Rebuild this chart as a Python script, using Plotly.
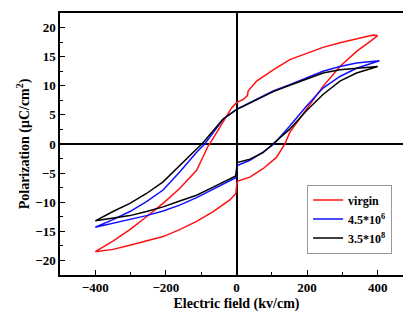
import plotly.graph_objects as go

# virgin (red) loop: ascending branch then descending branch
virgin_E = [-400, -350, -302, -255, -208, -161, -113, -66, -19, -2, 2, 38, 75, 113, 137, 151, 198, 245, 293, 340, 378, 400,
            387, 340, 293, 245, 198, 151, 104, 57, 33, 31, 19, 0, -14, -38, -61, -71, -80, -113, -161, -208, -255, -302, -350, -400]
virgin_P = [-18.5, -18.1, -17.4, -16.7, -15.9, -14.7, -13.3, -11.6, -9.6, -8.5, -6.4, -5.7, -4.25, -2.3, 0.0, 2.0, 5.95, 9.9, 13.3, 15.9, 17.6, 18.6,
            18.7, 18.1, 17.4, 16.6, 15.6, 14.5, 12.75, 10.8, 9.1, 8.3, 7.65, 7.1, 6.2, 3.7, 1.4, 0.5, -0.3, -4.5, -7.65, -10.2, -12.5, -14.7, -16.7, -18.5]

# 4.5*10^6 cycles (blue)
b_E = [-400, -350, -302, -255, -208, -161, -113, -66, -2, 2, 38, 75, 106, 151, 198, 245, 293, 340, 387, 405,
       340, 293, 245, 198, 151, 104, 57, 0, -38, -66, -90, -113, -161, -208, -255, -302, -350, -400]
b_P = [-14.3, -13.6, -13.0, -12.3, -11.5, -10.5, -9.2, -7.8, -5.8, -3.7, -2.8, -1.4, 0.0, 3.1, 6.5, 9.6, 11.6, 13.0, 13.9, 14.3,
       13.9, 13.3, 12.5, 11.3, 10.2, 9.1, 7.65, 5.95, 4.25, 2.0, 0.0, -1.4, -4.8, -7.9, -9.9, -11.6, -13.0, -14.3]

# 3.5*10^8 cycles (black)
k_E = [-400, -350, -302, -255, -208, -161, -113, -66, -2, 2, 38, 75, 102, 151, 198, 245, 293, 340, 400,
       340, 293, 245, 198, 151, 104, 57, 0, -38, -66, -98, -113, -161, -208, -255, -302, -350, -400]
k_P = [-13.2, -12.75, -12.3, -11.6, -10.8, -9.8, -8.8, -7.4, -5.5, -3.2, -2.6, -1.5, 0.0, 2.55, 5.7, 8.5, 10.8, 12.2, 13.3,
       13.0, 12.75, 12.2, 11.2, 10.1, 9.0, 7.6, 5.9, 4.3, 2.3, 0.0, -0.85, -3.7, -6.5, -8.5, -10.2, -11.6, -13.2]

names = ["virgin", "4.5*10<sup>6</sup>", "3.5*10<sup>8</sup>"]
colors = ["#ff1010", "#1010ff", "#000000"]

x_ticks = [-400, -200, 0, 200, 400]
y_ticks = [-20, -15, -10, -5, 0, 5, 10, 15, 20]

tick_font = dict(family="Liberation Serif", size=13, color="black", weight="bold")
title_font = dict(family="Liberation Serif", size=14, color="black", weight="bold")
legend_font = dict(family="Liberation Serif", size=12, color="black", weight="bold")

fig = go.Figure()
for E, P, n, c in zip([virgin_E, b_E, k_E], [virgin_P, b_P, k_P], names, colors):
    fig.add_trace(go.Scatter(x=E, y=P, mode="lines", name=n,
                             line=dict(color=c, width=1.5)))

axis_common = dict(showgrid=False, showline=True, linecolor="black", linewidth=1.5,
                   mirror=True, ticks="inside", ticklen=5, tickwidth=1,
                   tickcolor="black", zeroline=True, zerolinecolor="black",
                   zerolinewidth=1.5, tickfont=tick_font)

fig.update_xaxes(range=[-500, 500], tickvals=x_ticks,
                 minor=dict(dtick=100, ticks="inside", ticklen=3, tickcolor="black"),
                 title=dict(text="Electric field (kv/cm)", font=title_font, standoff=4),
                 **axis_common)
fig.update_yaxes(range=[-22.5, 22.5], tickvals=y_ticks,
                 minor=dict(dtick=2.5, ticks="inside", ticklen=3, tickcolor="black"),
                 title=dict(text="Polarization (μC/cm<sup>2</sup>)", font=title_font, standoff=2),
                 **axis_common)

fig.add_shape(type="line", xref="paper", yref="paper", x0=1, x1=1, y0=0, y1=1,
              line=dict(color="black", width=3))

fig.update_layout(
    width=411, height=311,
    margin=dict(l=52, r=6, t=3, b=44),
    plot_bgcolor="white", paper_bgcolor="white",
    showlegend=True,
    legend=dict(x=0.70, y=0.345, xanchor="left", yanchor="top",
                bordercolor="#999999", borderwidth=1, bgcolor="white",
                font=legend_font, itemwidth=30, tracegroupgap=0),
)

fig.write_html("out.html")
